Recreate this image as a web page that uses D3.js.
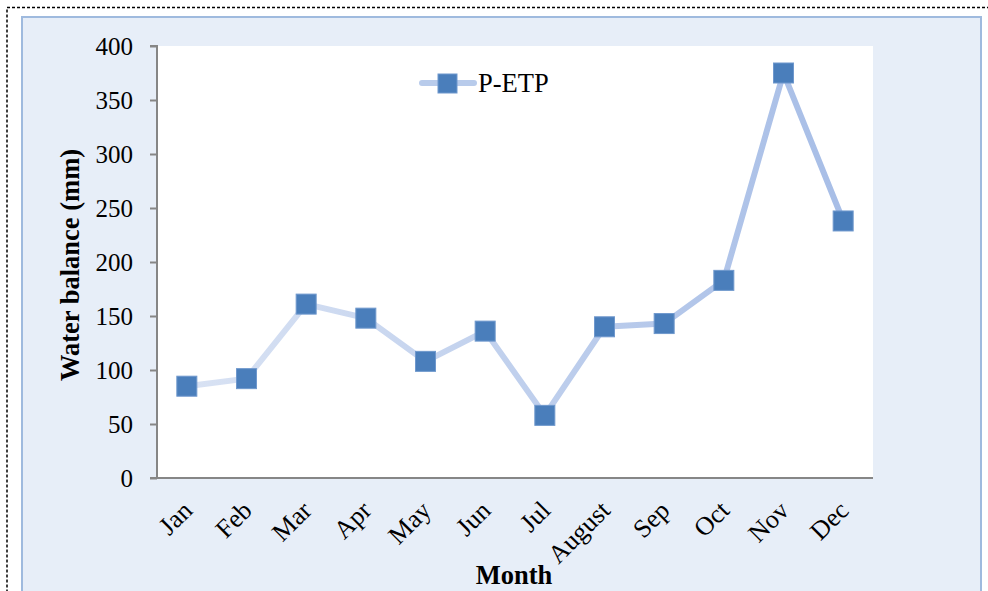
<!DOCTYPE html>
<html><head><meta charset="utf-8">
<script src="https://cdn.jsdelivr.net/npm/d3@7"></script>
<style>body{margin:0;background:#fff;}svg{display:block;}</style>
</head><body>
<script>
const months = ["Jan","Feb","Mar","Apr","May","Jun","Jul","August","Sep","Oct","Nov","Dec"];
const values = [85, 92, 161, 148, 108, 136, 58, 140, 143, 183, 375, 238];
const yTicks = [0,50,100,150,200,250,300,350,400];
const seriesName = "P-ETP";

const W = 988, H = 591;
const svg = d3.select("body").append("svg").attr("width", W).attr("height", H);
const defs = svg.append("defs");
const grad = defs.append("linearGradient").attr("id","lg").attr("gradientUnits","userSpaceOnUse")
  .attr("x1",157).attr("x2",873).attr("y1",0).attr("y2",0);
grad.append("stop").attr("offset","0%").attr("stop-color","#dbe4f4");
grad.append("stop").attr("offset","100%").attr("stop-color","#a5bce6");

// outer dashed frame
svg.append("rect").attr("x",7).attr("y",7.5).attr("width",990).attr("height",600)
  .attr("fill","none").attr("stroke","#000").attr("stroke-width",1.5).attr("stroke-dasharray","3,2");
// inner panel
svg.append("rect").attr("x",22).attr("y",17).attr("width",959).attr("height",600)
  .attr("fill","#e7eef8").attr("stroke","#9fbade").attr("stroke-width",2);

const m = {l:157, r:873, t:46, b:478};
svg.append("rect").attr("x",m.l).attr("y",m.t).attr("width",m.r-m.l).attr("height",m.b-m.t).attr("fill","#fff");

const x = d3.scaleBand().domain(months).range([m.l, m.r]);
const y = d3.scaleLinear().domain([0,400]).range([m.b, m.t]);
const font = "'Liberation Serif','Times New Roman',serif";

// y axis
const ya = svg.append("g").attr("transform",`translate(${m.l},0)`)
  .call(d3.axisLeft(y).tickValues(yTicks).tickSize(7).tickPadding(17));
ya.selectAll("path,line").attr("stroke","#868686").attr("stroke-width",2);
ya.select(".domain").attr("d",`M-7,${m.t}H0V${m.b}`);
ya.selectAll("text").attr("font-family",font).attr("font-size",25).attr("fill","#000");

// x axis
const xa = svg.append("g").attr("transform",`translate(0,${m.b})`)
  .call(d3.axisBottom(x).tickSize(0).tickPadding(0));
xa.select(".domain").attr("d",`M${m.l-7},0H${m.r}`).attr("stroke","#868686").attr("stroke-width",2);
xa.selectAll("text").attr("font-family",font).attr("font-size",26).attr("fill","#000")
  .attr("text-anchor","end").attr("dy",0)
  .attr("transform","translate(7,34) rotate(-45)");

// line
const line = d3.line().x((d,i)=>x(months[i])+x.bandwidth()/2).y(d=>y(d));
svg.append("path").datum(values).attr("d",line).attr("fill","none")
  .attr("stroke","url(#lg)").attr("stroke-width",6).attr("stroke-linejoin","round");

// markers
const s = 20;
svg.selectAll("rect.mk").data(values).join("rect").attr("class","mk")
  .attr("x",(d,i)=>x(months[i])+x.bandwidth()/2-s/2).attr("y",d=>y(d)-s/2)
  .attr("width",s).attr("height",s).attr("fill","#4a7ebb").attr("stroke","#6f98cd").attr("stroke-width",1);

// legend
const lg = svg.append("g");
lg.append("line").attr("x1",422).attr("x2",474).attr("y1",83).attr("y2",83)
  .attr("stroke","#b8cbeb").attr("stroke-width",6).attr("stroke-linecap","round");
lg.append("rect").attr("x",438).attr("y",74).attr("width",19).attr("height",19)
  .attr("fill","#4a7ebb").attr("stroke","#6f98cd");
lg.append("text").attr("x",478).attr("y",92).text(seriesName)
  .attr("font-family",font).attr("font-size",26.5);

// axis titles
svg.append("text").attr("transform",`translate(79,${(m.t+m.b)/2+3}) rotate(-90)`)
  .attr("text-anchor","middle").attr("font-family",font).attr("font-size",26.5).attr("font-weight","bold")
  .text("Water balance (mm)");
svg.append("text").attr("x",514).attr("y",584).attr("text-anchor","middle")
  .attr("font-family",font).attr("font-size",26.5).attr("font-weight","bold").text("Month");
</script>
</body></html>
